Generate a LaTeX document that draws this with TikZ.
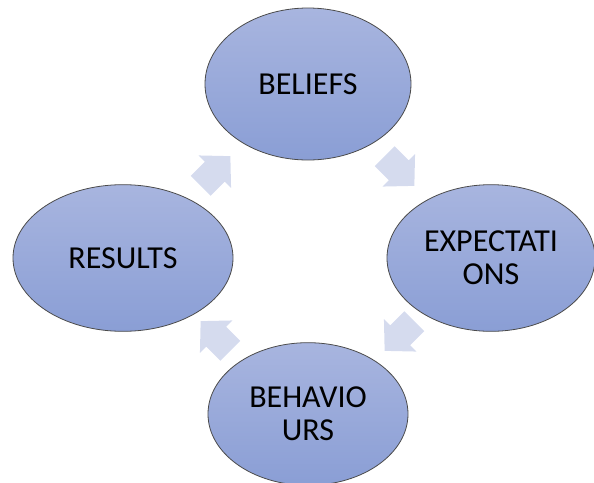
\documentclass[tikz,border=0pt]{standalone}
\usepackage{fontspec}
\setmainfont{Carlito}
\usetikzlibrary{shapes.geometric,calc}
\definecolor{ovalTop}{RGB}{168,181,223}
\definecolor{ovalBot}{RGB}{138,158,213}
\definecolor{ovalLine}{RGB}{75,75,75}
\definecolor{arrowFill}{RGB}{213,219,238}
\begin{document}
\begin{tikzpicture}[x=0.75pt, y=-0.75pt,
    oval/.style={ellipse, draw=ovalLine, line width=0.6pt, top color=ovalTop, bottom color=ovalBot,
        inner sep=0pt, align=center, font=\fontsize{24}{25}\selectfont}]
\useasboundingbox (0,0) rectangle (594,483);
\node[oval, minimum width=154.5pt, minimum height=114pt] (bel) at (308,84) {BELIEFS};
\node[oval, minimum width=156pt, minimum height=110pt] (exp) at (491,258) {EXPECTATI\\ONS};
\node[oval, minimum width=150pt, minimum height=107pt] (beh) at (308,414) {BEHAVIO\\URS};
\node[oval, minimum width=165pt, minimum height=110pt] (res) at (123,258) {RESULTS};
% block arrows between the ovals
\foreach \a/\b/\ang in {bel/exp/-45, exp/beh/-135, beh/res/135, res/bel/45}
{
    \begin{scope}[shift={($(\a)!0.5!(\b)$)}, rotate=\ang]
        \fill[arrowFill] (-21,-14)--(-1,-14)--(-1,-23)--(21,0)--(-1,23)--(-1,14)--(-21,14)--cycle;
    \end{scope}
}
\end{tikzpicture}
\end{document}
